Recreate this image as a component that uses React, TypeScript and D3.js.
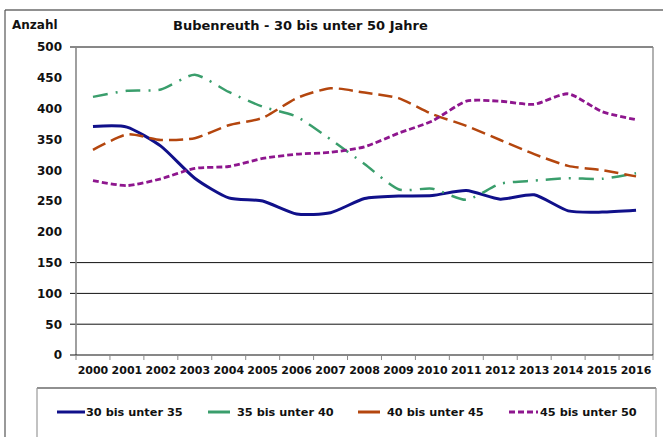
import React, { useEffect } from "react";
import * as d3 from "d3";

const years = ["2000","2001","2002","2003","2004","2005","2006","2007","2008","2009","2010","2011","2012","2013","2014","2015","2016"];
const s30 = [371, 370, 339, 287, 255, 250, 229, 231, 254, 258, 259, 267, 253, 260, 234, 232, 235];
const s35 = [419, 429, 431, 455, 427, 403, 387, 350, 310, 269, 270, 252, 278, 283, 287, 286, 295];
const s40 = [333, 358, 349, 352, 373, 385, 417, 433, 426, 417, 391, 372, 349, 326, 307, 300, 290];
const s45 = [283, 275, 286, 303, 306, 319, 326, 329, 338, 360, 380, 412, 412, 407, 424, 395, 382];
const yTicks = [0, 50, 100, 150, 200, 250, 300, 350, 400, 450, 500];
const gridValues = [50, 100, 150, 500];
const seriesNames = ["30 bis unter 35", "35 bis unter 40", "40 bis unter 45", "45 bis unter 50"];

const FONT = "'DejaVu Sans', sans-serif";

export default function App() {
  useEffect(() => {
    document.body.style.margin = "0";
  }, []);

  const W = 663, H = 437;
  const left = 76, right = 653, top = 47, bottom = 355;
  const x = d3.scaleBand<string>().domain(years).range([left, right]);
  const y = d3.scaleLinear().domain([0, 500]).range([bottom, top]);
  const cx = (yr: string) => (x(yr) as number) + x.bandwidth() / 2;

  const line = d3.line<number>()
    .x((_, i) => cx(years[i]))
    .y((v) => y(v))
    .curve(d3.curveCardinal.tension(0.35));

  const series = [
    { name: seriesNames[0], data: s30, color: "#10108a", width: 3, dash: "", legendDash: "" },
    { name: seriesNames[1], data: s35, color: "#3a9e6c", width: 2.5, dash: "15 8 2 8", legendDash: "" },
    { name: seriesNames[2], data: s40, color: "#b4460e", width: 2.5, dash: "14 6", legendDash: "" },
    { name: seriesNames[3], data: s45, color: "#8e168e", width: 2.8, dash: "6 3", legendDash: "6 3" },
  ];

  const legendItems = [
    { lx1: 57, lx2: 85, tx: 86 },
    { lx1: 208, lx2: 230, tx: 237 },
    { lx1: 358, lx2: 380, tx: 387 },
    { lx1: 509, lx2: 538, tx: 540 },
  ];

  return (
    <svg width={W} height={H} style={{ display: "block" }} fontFamily={FONT}>
      <rect x={0} y={0} width={W} height={H} fill="#fff" />
      <line x1={5} y1={10} x2={W} y2={10} stroke="#222" strokeWidth={1.2} />
      <line x1={5} y1={10} x2={5} y2={H} stroke="#555" strokeWidth={1.2} />

      <text x={12} y={29} fontSize={12} fontWeight="bold" fill="#111">Anzahl</text>
      <text x={173} y={30} fontSize={13} fontWeight="bold" fill="#111">Bubenreuth - 30 bis unter 50 Jahre</text>

      {gridValues.map((v) => (
        <line key={"g" + v} x1={70} x2={right} y1={y(v)} y2={y(v)} stroke="#111" strokeWidth={1} />
      ))}
      <line x1={right} x2={right} y1={top} y2={bottom} stroke="#888" strokeWidth={1.3} />
      <line x1={left} x2={left} y1={top} y2={bottom} stroke="#888" strokeWidth={1.6} />
      <line x1={70} x2={right} y1={bottom} y2={bottom} stroke="#111" strokeWidth={1.2} />
      {years.map((yr) => (
        <line key={"t" + yr} x1={x(yr) as number} x2={x(yr) as number} y1={bottom} y2={bottom + 5} stroke="#888" strokeWidth={1} />
      ))}
      <line x1={right} x2={right} y1={bottom} y2={bottom + 5} stroke="#888" strokeWidth={1} />

      {yTicks.map((v) => (
        <text key={"yl" + v} x={62} y={y(v)} dy="0.36em" textAnchor="end" fontSize={12} fontWeight="bold" fill="#111">{v}</text>
      ))}
      {years.map((yr) => (
        <text key={"xl" + yr} x={cx(yr)} y={374} textAnchor="middle" fontSize={11} fontWeight="bold" fill="#111">{yr}</text>
      ))}

      {series.map((s) => (
        <path key={s.name} d={line(s.data) || ""} fill="none" stroke={s.color} strokeWidth={s.width}
          strokeDasharray={s.dash || undefined} strokeLinejoin="round" />
      ))}

      <line x1={37} x2={656} y1={388} y2={388} stroke="#222" strokeWidth={1.2} />
      <line x1={37} x2={37} y1={388} y2={H} stroke="#999" strokeWidth={1.2} />
      <line x1={656} x2={656} y1={388} y2={H} stroke="#999" strokeWidth={1.2} />
      {series.map((s, i) => (
        <g key={"lg" + i}>
          <line x1={legendItems[i].lx1} x2={legendItems[i].lx2} y1={412} y2={412} stroke={s.color} strokeWidth={3}
            strokeDasharray={s.legendDash || undefined} />
          <text x={legendItems[i].tx} y={412} dy="0.36em" fontSize={11.3} fontWeight="bold" fill="#111">{s.name}</text>
        </g>
      ))}
    </svg>
  );
}
